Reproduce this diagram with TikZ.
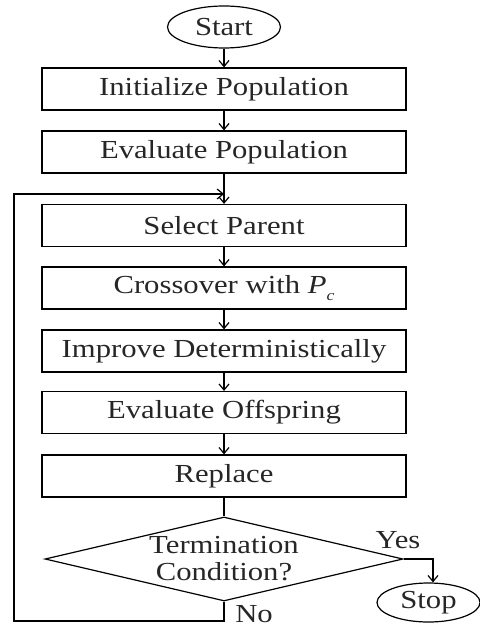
\documentclass[tikz,border=0pt]{standalone}
\usepackage{fontspec}
\setmainfont[FakeStretch=1.18]{Liberation Serif}
\usetikzlibrary{shapes.geometric,arrows.meta}
\begin{document}
\begin{tikzpicture}[x=1bp,y=-1bp,
  every node/.style={font=\fontsize{26bp}{27bp}\selectfont, text=black!85},
  proc/.style={draw, line width=1.2bp, minimum width=364bp, minimum height=42bp, inner sep=0pt},
  term/.style={draw, ellipse, line width=1.2bp, inner sep=0pt},
  decshape/.style={draw, diamond, line width=1.2bp, inner sep=0pt, minimum width=358bp, minimum height=84bp},
  flow/.style={draw, line width=1.2bp, -{Straight Barb[length=6bp,width=10bp]}},
  plain/.style={draw, line width=1.2bp}]
\useasboundingbox (0,0) rectangle (480,627);
\node[term, minimum width=113bp, minimum height=42bp] (start) at (224,27) {Start};
\node[proc] (init) at (224,89) {Initialize Population};
\node[proc] (evalp) at (224,152) {Evaluate Population};
\node[proc] (sel) at (224,225.5) {Select Parent};
\node[proc] (cross) at (224,288) {Crossover with \textit{P}\raisebox{-0.3em}{\fontsize{15bp}{15bp}\selectfont\itshape c}};
\node[proc] (impr) at (224,351) {Improve Deterministically};
\node[proc] (evo) at (224,412.5) {Evaluate Offspring};
\node[proc] (repl) at (224,476) {Replace};
\node[decshape] (dec) at (224,559) {};
\node[align=center, inner sep=0pt] (dectext) at (224,558.5) {Termination\\Condition?};
\node[term, minimum width=103bp, minimum height=39bp] (stop) at (428.5,602.5) {Stop};
\node (yes) at (398,540) {Yes};
\node[inner sep=0pt] (no) at (254,614) {No};
\coordinate (nb) at (224,621);
\coordinate (nl) at (14,621);
\coordinate (lt) at (14,194);
\coordinate (lj) at (224,194);
\draw[flow] (start) -- (init);
\draw[flow] (init) -- (evalp);
\draw[flow] (evalp) -- (sel);
\draw[flow] (sel) -- (cross);
\draw[flow] (cross) -- (impr);
\draw[flow] (impr) -- (evo);
\draw[flow] (evo) -- (repl);
\draw[plain] (repl) -- (dec.north);
\draw[flow] (dec.east) -| ([xshift=4.5bp]stop.north);
\draw[flow] (dec.south) -- (nb) -- (nl) -- (lt) -- (lj);
\end{tikzpicture}
\end{document}
